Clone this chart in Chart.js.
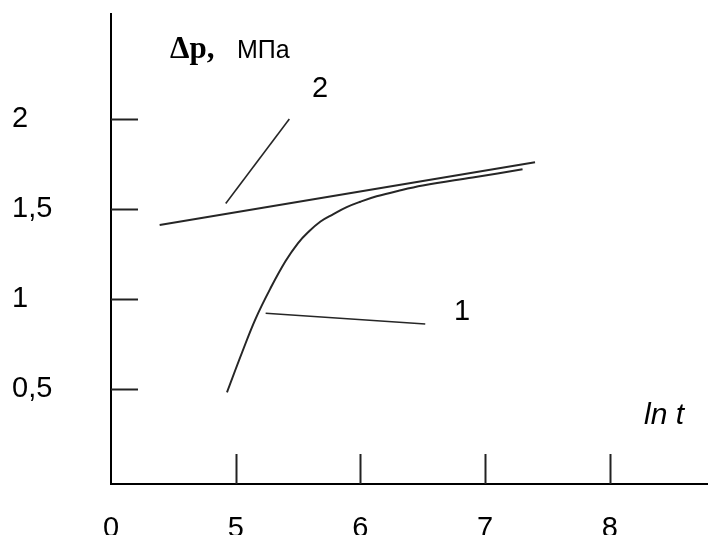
<!DOCTYPE html>
<html>
<head>
<meta charset="utf-8">
<script src="https://cdn.jsdelivr.net/npm/chart.js@4.4.1/dist/chart.umd.min.js"></script>
<style>
  body { margin: 0; background: #fff; }
</style>
</head>
<body>
<canvas id="pressureChart" width="708" height="535"></canvas>
<script>
// curve 1: pressure build-up vs ln t
const curveX = [4.93, 5.05, 5.16, 5.28, 5.40, 5.50, 5.58, 5.68, 5.78, 5.89, 6.00, 6.13, 6.30, 6.50, 6.90, 7.30];
const curveY = [0.48, 0.70, 0.89, 1.06, 1.21, 1.31, 1.37, 1.43, 1.47, 1.51, 1.54, 1.57, 1.60, 1.63, 1.675, 1.72];

// straight asymptote
const lineX = [4.39, 7.40];
const lineY = [1.41, 1.76];

// leader lines to the labels "1" and "2"
const leader1X = [5.24, 6.52];
const leader1Y = [0.92, 0.86];
const leader2X = [4.92, 5.43];
const leader2Y = [1.53, 2.00];

// ticks (x axis is broken: first tick shown as 0)
const xTicks = [4, 5, 6, 7, 8];
const xTickLabels = ['0', '5', '6', '7', '8'];
const yTicks = [0.5, 1, 1.5, 2];
const yTickLabels = ['0,5', '1', '1,5', '2'];

const toPoints = (xs, ys) => xs.map((v, i) => ({ x: v, y: ys[i] }));

const ink = '#262626';

const extras = {
  id: 'extras',
  afterDraw(chart) {
    const { ctx, scales: { x, y } } = chart;
    ctx.save();
    ctx.strokeStyle = '#222';
    ctx.lineWidth = 2;
    // tick marks point into the plot
    yTicks.forEach(v => {
      const py = Math.round(y.getPixelForValue(v)) + 0.5;
      ctx.beginPath();
      ctx.moveTo(x.left, py);
      ctx.lineTo(x.left + 27, py);
      ctx.stroke();
    });
    xTicks.slice(1).forEach(v => {
      const px = Math.round(x.getPixelForValue(v)) + 0.5;
      ctx.beginPath();
      ctx.moveTo(px, y.bottom);
      ctx.lineTo(px, y.bottom - 30);
      ctx.stroke();
    });

    ctx.fillStyle = '#000';
    ctx.textBaseline = 'alphabetic';
    ctx.textAlign = 'left';
    ctx.font = 'bold 31px "Liberation Serif"';
    ctx.fillText('Δp,', 170, 58);
    ctx.font = '25px "Liberation Sans"';
    ctx.fillText('МПа', 237, 58);
    ctx.font = '29px "Liberation Sans"';
    ctx.fillText('2', 312, 97);
    ctx.fillText('1', 454, 320);
    ctx.font = 'italic 30px "Liberation Sans"';
    ctx.fillText('ln t', 644, 424);
    ctx.restore();
  }
};

const noPad = s => {
  s.paddingTop = 0;
  s.paddingBottom = 0;
  s.paddingLeft = 0;
  s.paddingRight = 0;
};

new Chart(document.getElementById('pressureChart'), {
  type: 'scatter',
  data: {
    datasets: [
      {
        label: '1',
        data: toPoints(curveX, curveY),
        showLine: true,
        tension: 0.4,
        borderColor: ink,
        borderWidth: 2,
        pointRadius: 0
      },
      {
        label: 'asymptote',
        data: toPoints(lineX, lineY),
        showLine: true,
        borderColor: ink,
        borderWidth: 2,
        pointRadius: 0
      },
      {
        label: 'leader 1',
        data: toPoints(leader1X, leader1Y),
        showLine: true,
        borderColor: ink,
        borderWidth: 1.6,
        pointRadius: 0
      },
      {
        label: 'leader 2',
        data: toPoints(leader2X, leader2Y),
        showLine: true,
        borderColor: ink,
        borderWidth: 1.6,
        pointRadius: 0
      }
    ]
  },
  options: {
    responsive: false,
    animation: false,
    layout: { padding: { left: 12, top: 14, right: 0, bottom: 0 } },
    plugins: {
      legend: { display: false },
      tooltip: { enabled: false }
    },
    scales: {
      x: {
        type: 'linear',
        min: 4,
        max: 8.787,
        afterBuildTicks: s => { s.ticks = xTicks.map(v => ({ value: v })); },
        afterFit: s => { s.height = 51; noPad(s); },
        grid: { display: false, drawTicks: false },
        border: { display: true, color: '#000', width: 2 },
        ticks: {
          padding: 28,
          color: '#000',
          font: { family: 'Liberation Sans', size: 29 },
          callback: (v, i) => xTickLabels[i]
        }
      },
      y: {
        type: 'linear',
        min: -0.03,
        max: 2.584,
        afterBuildTicks: s => { s.ticks = yTicks.map(v => ({ value: v })); },
        afterFit: s => { s.width = 99; noPad(s); },
        grid: { display: false, drawTicks: false },
        border: { display: true, color: '#000', width: 2 },
        ticks: {
          crossAlign: 'far',
          color: '#000',
          font: { family: 'Liberation Sans', size: 29 },
          callback: (v, i) => yTickLabels[i]
        }
      }
    }
  },
  plugins: [extras]
});
</script>
</body>
</html>
